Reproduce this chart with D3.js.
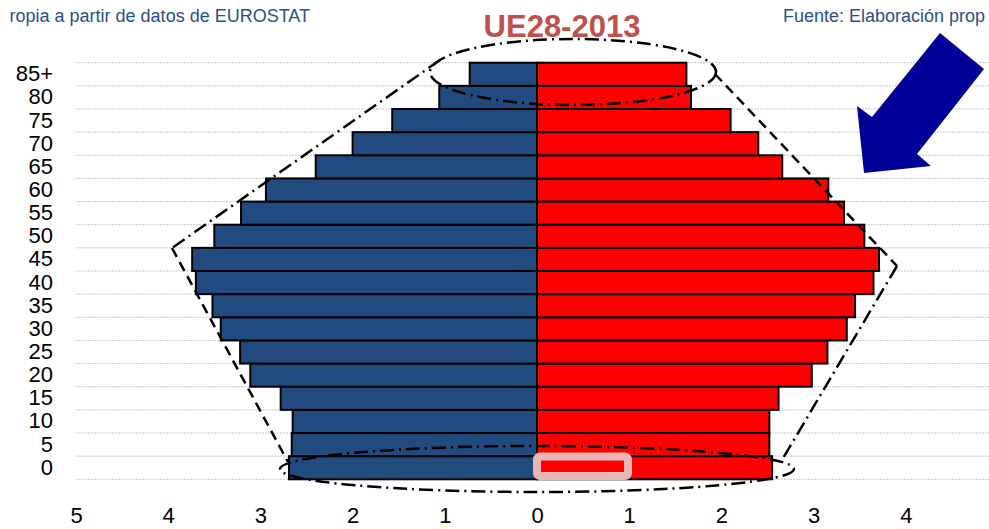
<!DOCTYPE html>
<html>
<head>
<meta charset="utf-8">
<script src="https://cdn.jsdelivr.net/npm/d3@7"></script>
<style>
	body { margin: 0; background: #fff; }
	svg { display: block; }
</style>
</head>
<body>
<div id="viz"></div>
<script>
// grupos de edad, de abajo a arriba
const ageGroups = ["0", "5", "10", "15", "20", "25", "30", "35", "40", "45", "50", "55", "60", "65", "70", "75", "80", "85+"];
// % de poblacion
const hombres = [2.69, 2.66, 2.65, 2.78, 3.11, 3.22, 3.43, 3.52, 3.70, 3.74, 3.50, 3.21, 2.94, 2.40, 2.00, 1.57, 1.06, 0.73];
const mujeres = [2.55, 2.52, 2.52, 2.62, 2.98, 3.15, 3.36, 3.45, 3.65, 3.71, 3.55, 3.33, 3.16, 2.66, 2.40, 2.10, 1.67, 1.62];
const xTicks = [-5, -4, -3, -2, -1, 0, 1, 2, 3, 4];

function draw() {
	let width = 989, height = 529;
	let font = "'Liberation Sans', Arial, sans-serif";

	let svg = d3.select("#viz").append("svg")
		.attr("width", width).attr("height", height);

	let x = d3.scaleLinear().domain([-5, 5]).range([76, 998]);
	let y = d3.scaleBand().domain(ageGroups).range([479.3, 62.7]).paddingInner(0).paddingOuter(0);

	// grid lines (band edges)
	let edges = ageGroups.map(a => y(a)).concat([y(ageGroups[0]) + y.bandwidth()]);
	svg.append("g").selectAll("line").data(edges).join("line")
		.attr("x1", x(-5)).attr("x2", width)
		.attr("y1", d => d).attr("y2", d => d)
		.attr("stroke", "#c8c8c8")
		.attr("stroke-width", 1)
		.attr("stroke-dasharray", "2,1");

	// bars
	svg.append("g").selectAll("rect").data(hombres).join("rect")
		.attr("x", d => x(-d)).attr("width", d => x(0) - x(-d))
		.attr("y", (d, i) => y(ageGroups[i])).attr("height", y.bandwidth())
		.attr("fill", "#214a7e").attr("stroke", "#000").attr("stroke-width", 2);

	svg.append("g").selectAll("rect").data(mujeres).join("rect")
		.attr("x", x(0)).attr("width", d => x(d) - x(0))
		.attr("y", (d, i) => y(ageGroups[i])).attr("height", y.bandwidth())
		.attr("fill", "#ff0000").attr("stroke", "#000").attr("stroke-width", 2);

	// y labels
	let yAxis = d3.axisLeft(y).tickSize(0).tickPadding(0);
	let ga = svg.append("g").attr("transform", "translate(53,0)").call(yAxis);
	ga.select(".domain").remove();
	ga.selectAll("text")
		.style("font-family", font).style("font-size", "22px").style("fill", "#000");

	// x labels
	let xAxis = d3.axisBottom(x).tickValues(xTicks).tickSize(0).tickPadding(0)
		.tickFormat(d => Math.abs(d));
	let gx = svg.append("g").attr("transform", "translate(0,507)").call(xAxis);
	gx.select(".domain").remove();
	gx.selectAll("text")
		.style("font-family", font).style("font-size", "22px").style("fill", "#000");

	// titles
	svg.append("text").text("UE28-2013")
		.attr("x", 562).attr("y", 37)
		.attr("text-anchor", "middle")
		.style("font-family", font).style("font-size", "31px")
		.style("font-weight", "bold").style("fill", "#c0504d");

	// caption, only the visible parts as in the original
	svg.append("text").text("ropia a partir de datos de EUROSTAT")
		.attr("x", 310).attr("y", 22)
		.attr("text-anchor", "end")
		.style("font-family", font).style("font-size", "18px").style("fill", "#2b5088");

	svg.append("text").text("Fuente: Elaboración prop")
		.attr("x", 783).attr("y", 22)
		.style("font-family", font).style("font-size", "18px").style("fill", "#2b5088");

	// annotations
	let dashDot = "14,5,2,5";
	let dashed = "10,6";

	svg.append("ellipse")
		.attr("cx", 573).attr("cy", 72).attr("rx", 143).attr("ry", 33)
		.attr("fill", "none").attr("stroke", "#000").attr("stroke-width", 2.5)
		.attr("stroke-dasharray", dashDot);

	svg.append("ellipse")
		.attr("cx", 537).attr("cy", 469).attr("rx", 257).attr("ry", 23)
		.attr("fill", "none").attr("stroke", "#000").attr("stroke-width", 2.5)
		.attr("stroke-dasharray", dashDot);

	svg.append("line")
		.attr("x1", 440).attr("y1", 60).attr("x2", 172).attr("y2", 248)
		.attr("stroke", "#000").attr("stroke-width", 2.5).attr("stroke-dasharray", dashDot);

	svg.append("line")
		.attr("x1", 172).attr("y1", 248).attr("x2", 288).attr("y2", 462)
		.attr("stroke", "#000").attr("stroke-width", 2.5).attr("stroke-dasharray", dashed);

	svg.append("line")
		.attr("x1", 715).attr("y1", 74).attr("x2", 897).attr("y2", 266)
		.attr("stroke", "#000").attr("stroke-width", 2.5).attr("stroke-dasharray", dashed);

	svg.append("line")
		.attr("x1", 897).attr("y1", 266).attr("x2", 782).attr("y2", 460)
		.attr("stroke", "#000").attr("stroke-width", 2.5).attr("stroke-dasharray", dashDot);

	// selected marker
	svg.append("rect")
		.attr("x", 537).attr("y", 456.5).attr("width", 91).attr("height", 19.5)
		.attr("rx", 3).attr("ry", 3)
		.attr("fill", "#ff0000")
		.attr("stroke", "#e8b6b6").attr("stroke-width", 8);

	// arrow
	svg.append("polygon")
		.attr("points", "940,33 984,69 917,154 931,166 864,173 857,106 872,117")
		.attr("fill", "#000099");
}
draw();
</script>
</body>
</html>
